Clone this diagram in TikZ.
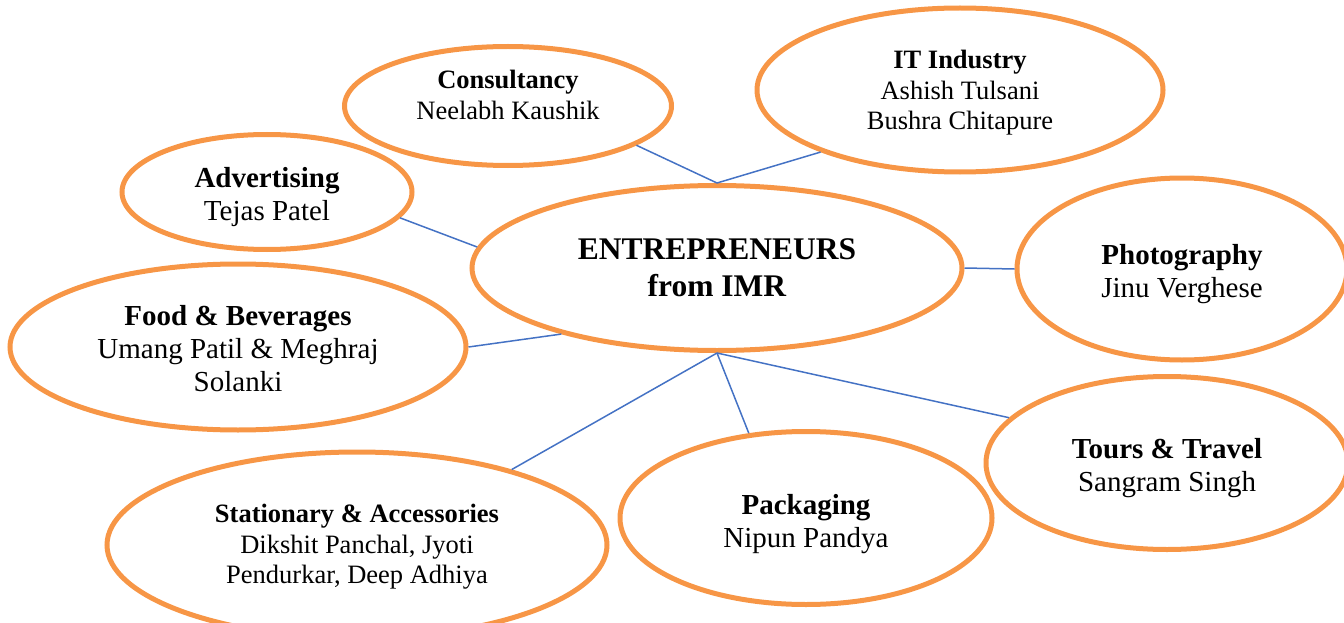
\documentclass[tikz,border=0pt]{standalone}
\usepackage{fontspec}
\setmainfont{Liberation Serif}
\definecolor{ringorange}{HTML}{F79646}
\definecolor{linkblue}{HTML}{4472C4}
% text block, nudged up or down inside its ring
\newcommand{\ringtext}[2][-4pt]{\raisebox{#1}[\height][\depth]{\begin{tabular}{@{}c@{}}#2\end{tabular}}}
\tikzset{
  bubble/.style={ellipse,draw=ringorange,line width=5pt,inner sep=0pt,font=\fontsize{29}{33}\selectfont},
  small/.style={font=\fontsize{26.5}{30.5}\selectfont},
  link/.style={linkblue,line width=1.5pt}
}
\usetikzlibrary{shapes.geometric}
\begin{document}
\begin{tikzpicture}[x=1pt,y=-1pt]
			\useasboundingbox (0,0) rectangle (1344,623);
			\node[bubble,minimum width=490pt,minimum height=165pt,font=\fontsize{31.5}{37}\selectfont] (ent) at (717,268) {\ringtext[-3pt]{\textbf{ENTREPRENEURS}\\\textbf{from IMR}}};
			\node[bubble,small,minimum width=327pt,minimum height=119pt] (cons) at (508,106) {\ringtext[8pt]{\textbf{Consultancy}\\Neelabh Kaushik}};
			\node[bubble,small,minimum width=406pt,minimum height=164pt] (it) at (960,90) {\ringtext[-3pt]{\textbf{IT Industry}\\Ashish Tulsani\\Bushra Chitapure}};
			\node[bubble,minimum width=290pt,minimum height=115pt] (adv) at (267,192) {\ringtext[-5pt]{\textbf{Advertising}\\Tejas Patel}};
			\node[bubble,minimum width=330pt,minimum height=182pt] (photo) at (1182,269) {\ringtext[-5pt]{\textbf{Photography}\\Jinu Verghese}};
			\node[bubble,minimum width=456pt,minimum height=166pt] (food) at (238,347) {\ringtext[-5pt]{\textbf{Food \& Beverages}\\Umang Patil \& Meghraj\\Solanki}};
			\node[bubble,minimum width=362pt,minimum height=173pt] (tours) at (1167,463) {\ringtext[-5pt]{\textbf{Tours \& Travel}\\Sangram Singh}};
			\node[bubble,minimum width=372pt,minimum height=173pt] (pack) at (806,518) {\ringtext[-6pt]{\textbf{Packaging}\\Nipun Pandya}};
			\node[bubble,small,minimum width=500pt,minimum height=186pt] (stat) at (357,545) {\ringtext[-2pt]{\textbf{Stationary \& Accessories}\\Dikshit Panchal, Jyoti\\Pendurkar, Deep Adhiya}};
			\draw[link] (cons.-17)--(ent.north);
			\draw[link] (it.-156)--(ent.north);
			\draw[link] (adv.-11.5)--(ent.175.2);
			\draw[link] (ent.east)--(photo.west);
			\draw[link] (food.east)--(ent.203.1);
			\draw[link] (ent.south)--(stat.26.6);
			\draw[link] (ent.south)--(pack.124.3);
			\draw[link] (ent.south)--(tours.164.7);
		\end{tikzpicture}
\end{document}
